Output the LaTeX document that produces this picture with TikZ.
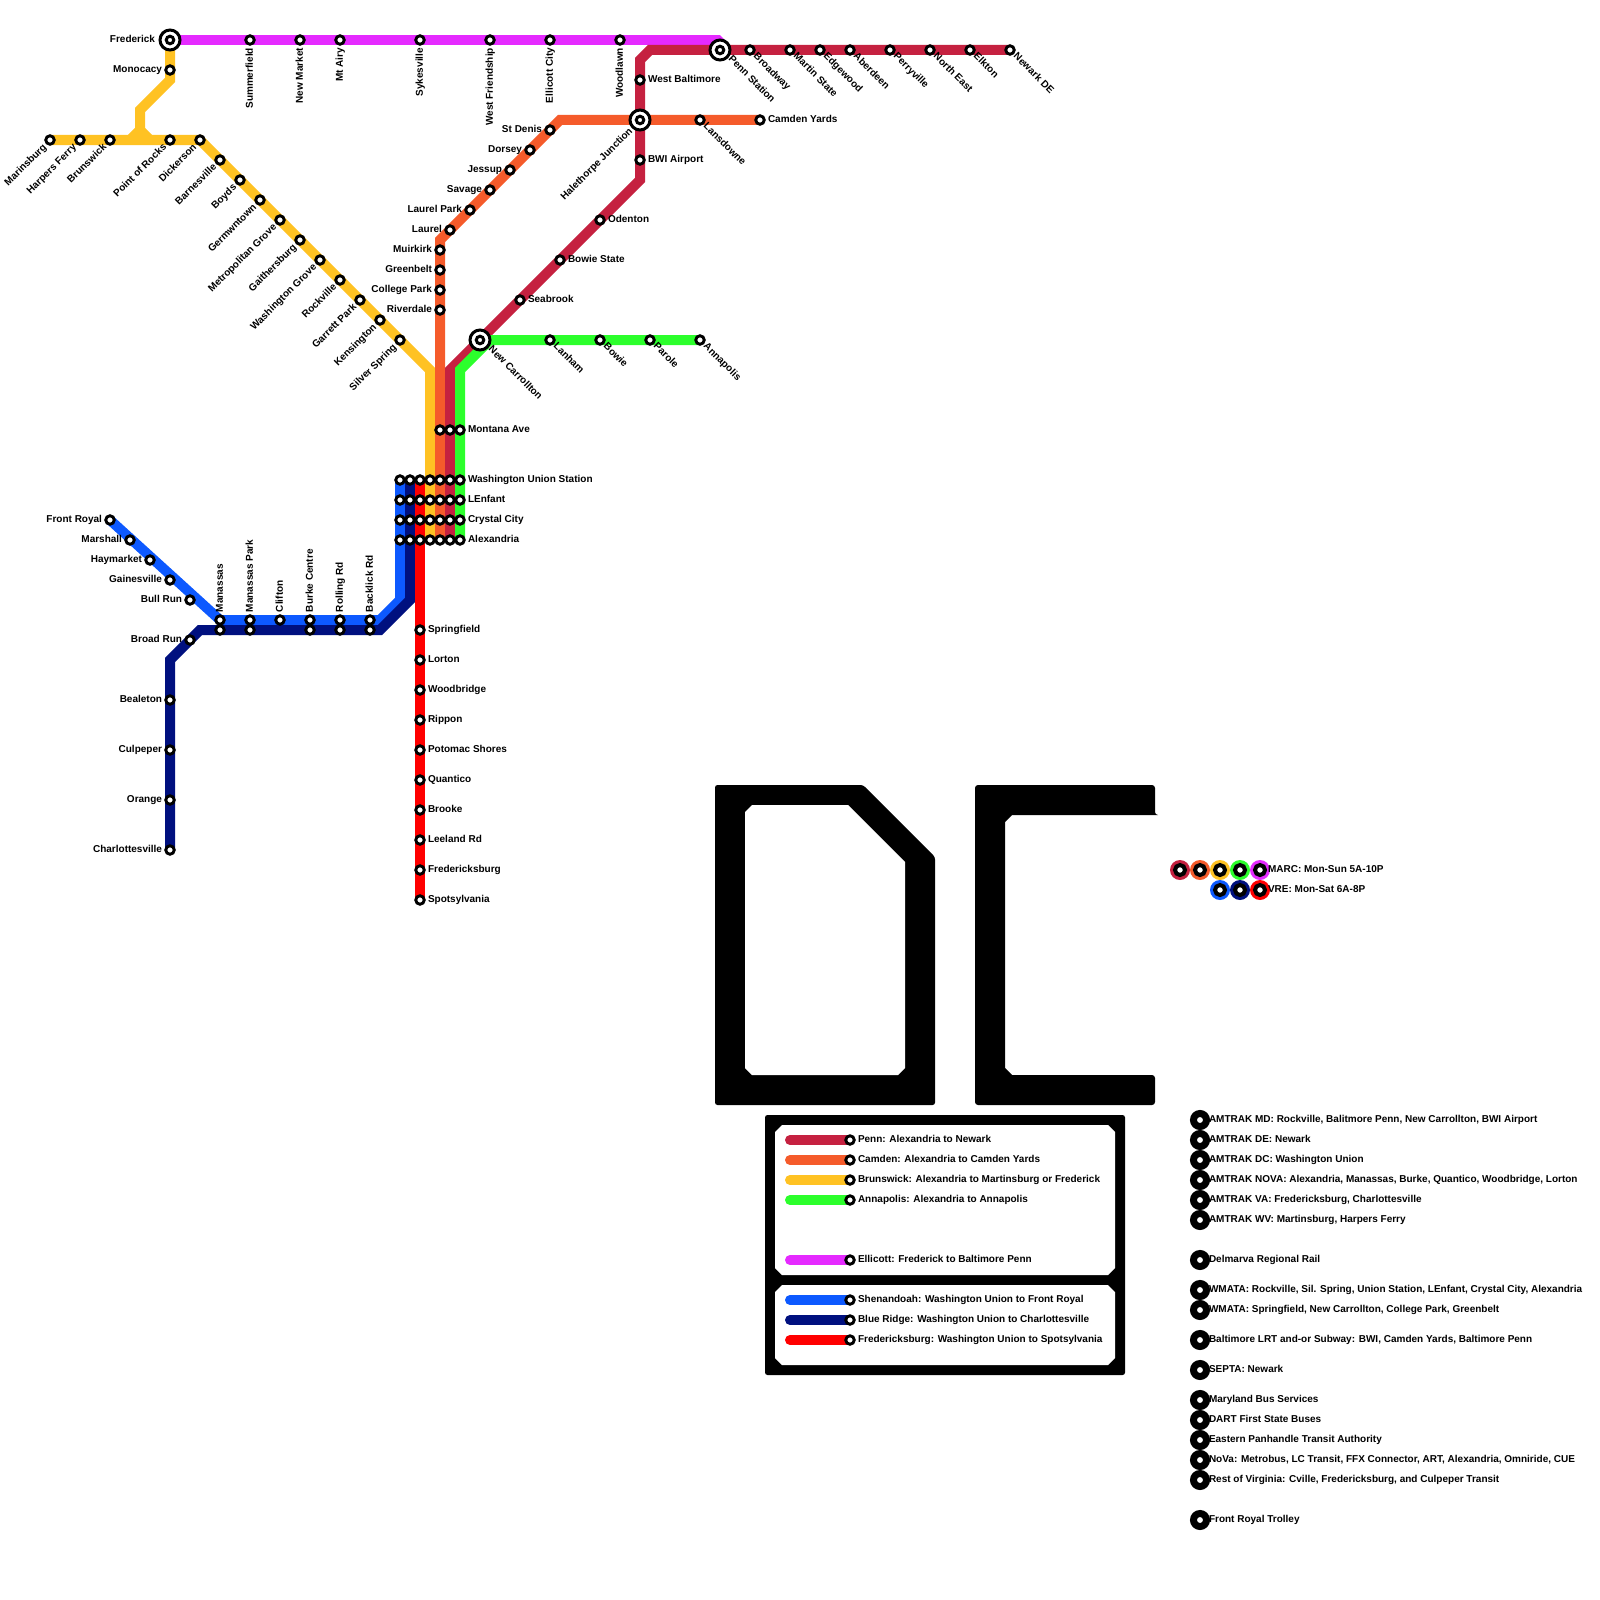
\documentclass[tikz,border=0pt]{standalone}
\usepackage{fontspec}
\setmainfont{Liberation Sans}
\usetikzlibrary{backgrounds}
\definecolor{cPenn}{HTML}{C52140}
\definecolor{cCamden}{HTML}{F55B2B}
\definecolor{cBruns}{HTML}{FFC223}
\definecolor{cAnnap}{HTML}{2CFF2C}
\definecolor{cEllic}{HTML}{E52AFF}
\definecolor{cShen}{HTML}{0D59FF}
\definecolor{cBlue}{HTML}{00107F}
\definecolor{cFred}{HTML}{FF0000}
\tikzset{
  rail/.style={line width=10pt,line join=miter},
  key/.style={line width=10pt,line cap=round},
  stn/.style={circle,draw=black,fill=white,line width=2.9pt,minimum size=8.5pt,inner sep=0pt,outer sep=0pt},
  hub/.style={circle,draw=black,fill=white,line width=3pt,minimum size=20pt,inner sep=0pt,outer sep=0pt},
  hubin/.style={circle,draw=black,fill=white,line width=3pt,minimum size=7.5pt,inner sep=0pt,outer sep=0pt},
  big/.style={circle,draw=black,fill=white,line width=7pt,minimum size=13pt,inner sep=0pt,outer sep=0pt},
  halo/.style={circle,fill=#1,minimum size=20pt,inner sep=0pt,outer sep=0pt},
  bring/.style={circle,draw=black,fill=white,line width=4pt,minimum size=10pt,inner sep=0pt,outer sep=0pt},
  txt/.style={inner sep=0pt,outer sep=0pt,font=\fontsize{10}{12}\selectfont\bfseries,text=black,text height=7.5pt,text depth=2pt},
  R/.style={txt,anchor=west,xshift=8pt},
  L/.style={txt,anchor=east,xshift=-8pt},
  LL/.style={txt,anchor=east,xshift=-15pt},
  DR/.style={txt,anchor=west,xshift=5pt,yshift=-5pt,rotate=-45},
  DRR/.style={txt,anchor=west,xshift=10pt,yshift=-8pt,rotate=-45},
  UL/.style={txt,anchor=east,xshift=-5pt,yshift=-6pt,rotate=45},
  ULL/.style={txt,anchor=east,xshift=-9pt,yshift=-10pt,rotate=45},
  B/.style={txt,anchor=east,yshift=-8pt,rotate=90},
  A/.style={txt,anchor=west,yshift=8pt,rotate=90},
  K/.style={txt,anchor=west,xshift=8pt},
  KK/.style={txt,anchor=west,xshift=9pt}
}
\newcommand\stat[5]{\node[stn] (#1) at (#2,#3) {};\node[#4] (#1-l) at (#1.center) {#5};}
\newcommand\plain[3]{\node[stn] (#1) at (#2,#3) {};}
\newcommand\hubstat[5]{\node[hub] (#1) at (#2,#3) {};\node[hubin] (#1-i) at (#2,#3) {};\node[#4] (#1-l) at (#1.center) {#5};}
\newcommand\bigstat[3]{\node[big] (#1) at (1200,#2) {};\node[KK] (#1-l) at (#1.center) {#3};}
\begin{document}
\begin{tikzpicture}[x=1pt,y=-1pt]
\useasboundingbox (0,0) rectangle (1600,1600);
% --- Ellicott
\hubstat{frederick}{170}{40}{LL}{Frederick}
\stat{summerfield}{250}{40}{B}{Summerfield}
\stat{newmarket}{300}{40}{B}{New Market}
\stat{mtairy}{340}{40}{B}{Mt Airy}
\stat{sykesville}{420}{40}{B}{Sykesville}
\stat{westfriend}{490}{40}{B}{West Friendship}
\stat{ellicott}{550}{40}{B}{Ellicott City}
\stat{woodlawn}{620}{40}{B}{Woodlawn}
% --- Penn
\hubstat{penn}{720}{50}{DRR}{Penn Station}
\stat{broadway}{750}{50}{DR}{Broadway}
\stat{martin}{790}{50}{DR}{Martin State}
\stat{edgewood}{820}{50}{DR}{Edgewood}
\stat{aberdeen}{850}{50}{DR}{Aberdeen}
\stat{perryville}{890}{50}{DR}{Perryville}
\stat{northeast}{930}{50}{DR}{North East}
\stat{elkton}{970}{50}{DR}{Elkton}
\stat{newark}{1010}{50}{DR}{Newark DE}
\stat{westbalt}{640}{80}{R}{West Baltimore}
\hubstat{halethorpe}{640}{120}{ULL}{Halethorpe Junction}
\stat{bwi}{640}{160}{R}{BWI Airport}
\stat{odenton}{600}{220}{R}{Odenton}
\stat{bowiest}{560}{260}{R}{Bowie State}
\stat{seabrook}{520}{300}{R}{Seabrook}
\hubstat{carrollton}{480}{340}{DRR}{New Carrollton}
% --- Camden
\stat{lansdowne}{700}{120}{DR}{Lansdowne}
\stat{camdenyd}{760}{120}{R}{Camden Yards}
\stat{stdenis}{550}{130}{L}{St Denis}
\stat{dorsey}{530}{150}{L}{Dorsey}
\stat{jessup}{510}{170}{L}{Jessup}
\stat{savage}{490}{190}{L}{Savage}
\stat{laurelpk}{470}{210}{L}{Laurel Park}
\stat{laurel}{450}{230}{L}{Laurel}
\stat{muirkirk}{440}{250}{L}{Muirkirk}
\stat{greenbelt}{440}{270}{L}{Greenbelt}
\stat{collegepk}{440}{290}{L}{College Park}
\stat{riverdale}{440}{310}{L}{Riverdale}
% --- Annapolis
\stat{lanham}{550}{340}{DR}{Lanham}
\stat{bowie}{600}{340}{DR}{Bowie}
\stat{parole}{650}{340}{DR}{Parole}
\stat{annapolis}{700}{340}{DR}{Annapolis}
% --- Brunswick
\stat{monocacy}{170}{70}{L}{Monocacy}
\stat{marinsburg}{50}{140}{UL}{Marinsburg}
\stat{harpers}{80}{140}{UL}{Harpers Ferry}
\stat{brunswick}{110}{140}{UL}{Brunswick}
\stat{pointrocks}{170}{140}{UL}{Point of Rocks}
\stat{dickerson}{200}{140}{UL}{Dickerson}
\stat{barnesville}{220}{160}{UL}{Barnesville}
\stat{boyds}{240}{180}{UL}{Boyds}
\stat{germ}{260}{200}{UL}{Germwntown}
\stat{metgrove}{280}{220}{UL}{Metropolitan Grove}
\stat{gaith}{300}{240}{UL}{Gaithersburg}
\stat{washgrove}{320}{260}{UL}{Washington Grove}
\stat{rockville}{340}{280}{UL}{Rockville}
\stat{garrett}{360}{300}{UL}{Garrett Park}
\stat{kensington}{380}{320}{UL}{Kensington}
\stat{silver}{400}{340}{UL}{Silver Spring}
% --- Core
\plain{ma}{440}{430}\plain{mb}{450}{430}\stat{mc}{460}{430}{R}{Montana Ave}
\plain{ua}{400}{480}\plain{ub}{410}{480}\plain{uc}{420}{480}\plain{ud}{430}{480}\plain{ue}{440}{480}\plain{uf}{450}{480}\stat{ug}{460}{480}{R}{Washington Union Station}
\plain{la}{400}{500}\plain{lb}{410}{500}\plain{lc}{420}{500}\plain{ld}{430}{500}\plain{le}{440}{500}\plain{lf}{450}{500}\stat{lg}{460}{500}{R}{LEnfant}
\plain{ca}{400}{520}\plain{cb}{410}{520}\plain{cc}{420}{520}\plain{cd}{430}{520}\plain{ce}{440}{520}\plain{cf}{450}{520}\stat{cg}{460}{520}{R}{Crystal City}
\plain{aa}{400}{540}\plain{ab}{410}{540}\plain{ac}{420}{540}\plain{ad}{430}{540}\plain{ae}{440}{540}\plain{af}{450}{540}\stat{ag}{460}{540}{R}{Alexandria}
% --- Shenandoah and Blue Ridge
\stat{frontroyal}{110}{520}{L}{Front Royal}
\stat{marshall}{130}{540}{L}{Marshall}
\stat{haymarket}{150}{560}{L}{Haymarket}
\stat{gainesville}{170}{580}{L}{Gainesville}
\stat{bullrun}{190}{600}{L}{Bull Run}
\stat{manassas}{220}{620}{A}{Manassas}\plain{manassasb}{220}{630}
\stat{manpark}{250}{620}{A}{Manassas Park}\plain{manparkb}{250}{630}
\stat{clifton}{280}{620}{A}{Clifton}
\stat{burke}{310}{620}{A}{Burke Centre}\plain{burkeb}{310}{630}
\stat{rolling}{340}{620}{A}{Rolling Rd}\plain{rollingb}{340}{630}
\stat{backlick}{370}{620}{A}{Backlick Rd}\plain{backlickb}{370}{630}
\stat{broadrun}{190}{640}{L}{Broad Run}
\stat{bealeton}{170}{700}{L}{Bealeton}
\stat{culpeper}{170}{750}{L}{Culpeper}
\stat{orange}{170}{800}{L}{Orange}
\stat{charlottes}{170}{850}{L}{Charlottesville}
% --- Fredericksburg
\stat{springfield}{420}{630}{R}{Springfield}
\stat{lorton}{420}{660}{R}{Lorton}
\stat{woodbridge}{420}{690}{R}{Woodbridge}
\stat{rippon}{420}{720}{R}{Rippon}
\stat{potomac}{420}{750}{R}{Potomac Shores}
\stat{quantico}{420}{780}{R}{Quantico}
\stat{brooke}{420}{810}{R}{Brooke}
\stat{leeland}{420}{840}{R}{Leeland Rd}
\stat{fredsburg}{420}{870}{R}{Fredericksburg}
\stat{spots}{420}{900}{R}{Spotsylvania}
% --- bends
\coordinate (y1) at (170,80); \coordinate (y2) at (140,110); \coordinate (y3) at (140,130);
\coordinate (y4) at (130,140); \coordinate (y5) at (150,140); \coordinate (y6) at (430,370);
\coordinate (o1) at (560,120); \coordinate (o2) at (440,240);
\coordinate (p1) at (650,50); \coordinate (p2) at (640,60); \coordinate (p3) at (640,180); \coordinate (p4) at (450,370);
\coordinate (g1) at (490,340); \coordinate (g2) at (460,370);
\coordinate (m1) at (720,40);
\coordinate (s1) at (380,620); \coordinate (s2) at (400,600);
\coordinate (b1) at (170,660); \coordinate (b2) at (200,630); \coordinate (b3) at (380,630); \coordinate (b4) at (410,600);
% --- legend frame
\fill[black,rounded corners=2.5pt] (765,1115) rectangle (1125,1375);
\fill[white] (782,1125) -- (1108,1125) -- (1115,1132) -- (1115,1268) -- (1108,1275) -- (782,1275) -- (775,1268) -- (775,1132) -- cycle;
\fill[white] (782,1285) -- (1108,1285) -- (1115,1292) -- (1115,1358) -- (1108,1365) -- (782,1365) -- (775,1358) -- (775,1292) -- cycle;
% --- legend keys
\coordinate (k1) at (790,1140); \coordinate (k2) at (790,1160); \coordinate (k3) at (790,1180); \coordinate (k4) at (790,1200);
\coordinate (k5) at (790,1260); \coordinate (k6) at (790,1300); \coordinate (k7) at (790,1320); \coordinate (k8) at (790,1340);
\draw[key,cPenn] (k1) -- (850,1140);
\draw[key,cCamden] (k2) -- (850,1160);
\draw[key,cBruns] (k3) -- (850,1180);
\draw[key,cAnnap] (k4) -- (850,1200);
\draw[key,cEllic] (k5) -- (850,1260);
\draw[key,cShen] (k6) -- (850,1300);
\draw[key,cBlue] (k7) -- (850,1320);
\draw[key,cFred] (k8) -- (850,1340);
\stat{kpenn}{850}{1140}{K}{Penn: Alexandria to Newark}
\stat{kcam}{850}{1160}{K}{Camden: Alexandria to Camden Yards}
\stat{kbru}{850}{1180}{K}{Brunswick: Alexandria to Martinsburg or Frederick}
\stat{kann}{850}{1200}{K}{Annapolis: Alexandria to Annapolis}
\stat{kell}{850}{1260}{K}{Ellicott: Frederick to Baltimore Penn}
\stat{kshe}{850}{1300}{K}{Shenandoah: Washington Union to Front Royal}
\stat{kblu}{850}{1320}{K}{Blue Ridge: Washington Union to Charlottesville}
\stat{kfre}{850}{1340}{K}{Fredericksburg: Washington Union to Spotsylvania}
% --- DC letters
\fill[black,rounded corners=2.5pt] (715,785) -- (863,785) -- (935,857) -- (935,1105) -- (715,1105) -- cycle;
\fill[white] (752,805) -- (848,805) -- (905,862) -- (905,1068) -- (898,1075) -- (752,1075) -- (745,1068) -- (745,812) -- cycle;
\fill[black] (980,785) to[out=0,in=180] (1152,785) arc[start angle=90,end angle=0,radius=3pt] -- (1155,812) arc[start angle=0,end angle=90,radius=-3pt] -- (1012,815) -- (1005,822) -- (1005,1068) -- (1012,1075) -- (1152,1075) arc[start angle=90,end angle=0,radius=3pt] -- (1155,1102) arc[start angle=0,end angle=-90,radius=3pt] -- (978,1105) arc[start angle=270,end angle=180,radius=3pt] -- (975,788) arc[start angle=180,end angle=90,radius=3pt] -- cycle;
% --- service hours
\node[halo=cPenn] (h1) at (1180,870) {}; \node[bring] (h1r) at (h1.center) {};
\node[halo=cCamden] (h2) at (1200,870) {}; \node[bring] (h2r) at (h2.center) {};
\node[halo=cBruns] (h3) at (1220,870) {}; \node[bring] (h3r) at (h3.center) {};
\node[halo=cAnnap] (h4) at (1240,870) {}; \node[bring] (h4r) at (h4.center) {};
\node[halo=cEllic] (h5) at (1260,870) {}; \node[bring] (h5r) at (h5.center) {};
\node[halo=cShen] (h6) at (1220,890) {}; \node[bring] (h6r) at (h6.center) {};
\node[halo=cBlue] (h7) at (1240,890) {}; \node[bring] (h7r) at (h7.center) {};
\node[halo=cFred] (h8) at (1260,890) {}; \node[bring] (h8r) at (h8.center) {};
\node[K] (marc) at (h5.center) {MARC: Mon-Sun 5A-10P};
\node[K] (vre) at (h8.center) {VRE: Mon-Sat 6A-8P};
% --- connections list
\bigstat{c1}{1120}{AMTRAK MD: Rockville, Balitmore Penn, New Carrollton, BWI Airport}
\bigstat{c2}{1140}{AMTRAK DE: Newark}
\bigstat{c3}{1160}{AMTRAK DC: Washington Union}
\bigstat{c4}{1180}{AMTRAK NOVA: Alexandria, Manassas, Burke, Quantico, Woodbridge, Lorton}
\bigstat{c5}{1200}{AMTRAK VA: Fredericksburg, Charlottesville}
\bigstat{c6}{1220}{AMTRAK WV: Martinsburg, Harpers Ferry}
\bigstat{c7}{1260}{Delmarva Regional Rail}
\bigstat{c8}{1290}{WMATA: Rockville, Sil. Spring, Union Station, LEnfant, Crystal City, Alexandria}
\bigstat{c9}{1310}{WMATA: Springfield, New Carrollton, College Park, Greenbelt}
\bigstat{c10}{1340}{Baltimore LRT and-or Subway: BWI, Camden Yards, Baltimore Penn}
\bigstat{c11}{1370}{SEPTA: Newark}
\bigstat{c12}{1400}{Maryland Bus Services}
\bigstat{c13}{1420}{DART First State Buses}
\bigstat{c14}{1440}{Eastern Panhandle Transit Authority}
\bigstat{c15}{1460}{NoVa: Metrobus, LC Transit, FFX Connector, ART, Alexandria, Omniride, CUE}
\bigstat{c16}{1480}{Rest of Virginia: Cville, Fredericksburg, and Culpeper Transit}
\bigstat{c17}{1520}{Front Royal Trolley}
% --- lines behind the stations
\begin{scope}[on background layer]
\draw[rail,cEllic,line join=bevel] (frederick.center) -- (m1) -- (penn.center);
\draw[rail,cBruns] (frederick.center) -- (y1) -- (y2) -- (y3) -- (y4);
\draw[rail,cBruns] (y3) -- (y5);
\draw[rail,cBruns] (marinsburg.center) -- (dickerson.center) -- (y6) -- (ad.center);
\draw[rail,cCamden] (camdenyd.center) -- (o1) -- (o2) -- (ae.center);
\draw[rail,cPenn] (newark.center) -- (p1) -- (p2) -- (p3) -- (p4) -- (af.center);
\draw[rail,cAnnap] (annapolis.center) -- (g1) -- (g2) -- (ag.center);
\draw[rail,cShen] (frontroyal.center) -- (manassas.center) -- (s1) -- (s2) -- (ua.center);
\draw[rail,cBlue] (charlottes.center) -- (b1) -- (b2) -- (b3) -- (b4) -- (ub.center);
\draw[rail,cFred] (uc.center) -- (spots.center);
\end{scope}
\end{tikzpicture}
\end{document}
